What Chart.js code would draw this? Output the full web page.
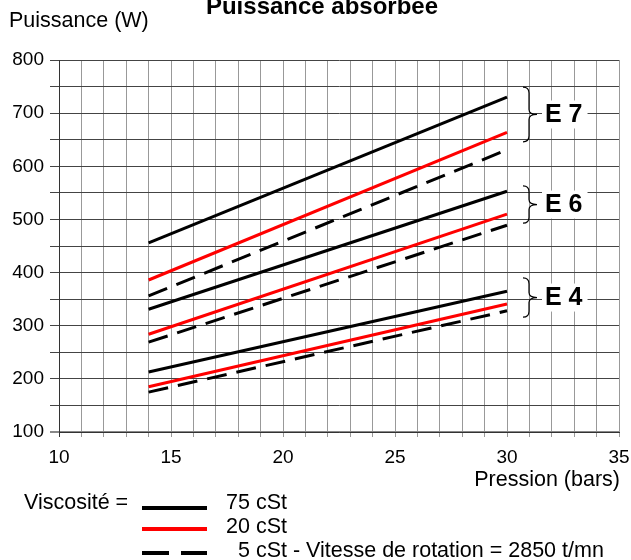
<!DOCTYPE html>
<html>
<head>
<meta charset="utf-8">
<script src="https://cdn.jsdelivr.net/npm/chart.js@4.4.0/dist/chart.umd.min.js"></script>
<style>
  html, body { margin: 0; padding: 0; background: #fff; }
  #wrap { width: 631px; height: 560px; position: relative; }
</style>
</head>
<body>
<div id="wrap"><canvas id="powerChart" width="631" height="560"></canvas></div>
<script>
// pressure range of every curve (bars)
const pressures = [14, 30];

// power (W) at 14 and 30 bars, per pump and viscosity
const e7_75 = [456, 730];
const e7_20 = [386, 664];
const e7_5 = [356, 631];
const e6_75 = [331, 553];
const e6_20 = [284, 510];
const e6_5 = [269, 489];
const e4_75 = [213, 365];
const e4_20 = [185, 341];
const e4_5 = [175, 328];

// brace ranges (W) and labels on the right
const groupLabels = ['E 7', 'E 6', 'E 4'];
const groupRanges = [[749, 646], [563, 493], [390, 316]];

const legendLabels = ['75 cSt', '20 cSt', '  5 cSt - Vitesse de rotation = 2850 t/mn'];

const FONT = '"Liberation Sans", Arial, sans-serif';

const toPts = vals => pressures.map((p, i) => ({ x: p, y: vals[i] }));

const styleFor = kind => {
  if (kind === 75) return { borderColor: '#000', borderDash: [] };
  if (kind === 20) return { borderColor: '#ff0000', borderDash: [] };
  return { borderColor: '#000', borderDash: [20, 10] };
};

const series = [
  [e7_75, 75], [e7_20, 20], [e7_5, 5],
  [e6_75, 75], [e6_20, 20], [e6_5, 5],
  [e4_75, 75], [e4_20, 20], [e4_5, 5]
];

const datasets = series.map(([vals, kind]) => ({
  data: toPts(vals),
  borderWidth: 3,
  pointRadius: 0,
  fill: false,
  tension: 0,
  ...styleFor(kind)
}));

// draws title, axis captions, braces and legend
const decorations = {
  id: 'decorations',
  afterDraw(chart) {
    const ctx = chart.ctx;
    const ys = chart.scales.y;
    ctx.save();
    ctx.fillStyle = '#000';
    ctx.textBaseline = 'middle';

    ctx.font = 'bold 24px ' + FONT;
    ctx.textAlign = 'center';
    ctx.fillText('Puissance absorbée', 322, 7);

    ctx.font = '21.5px ' + FONT;
    ctx.textAlign = 'left';
    ctx.fillText('Puissance (W)', 9, 21);

    ctx.textAlign = 'right';
    ctx.fillText('Pression (bars)', 620, 480);

    // braces
    groupRanges.forEach((r, i) => {
      const yTop = ys.getPixelForValue(r[0]);
      const yBot = ys.getPixelForValue(r[1]);
      const yMid = (yTop + yBot) / 2;
      const x0 = 523, x1 = 529, x2 = 537;
      ctx.strokeStyle = '#000';
      ctx.lineWidth = 1.2;
      ctx.beginPath();
      ctx.moveTo(x0, yTop);
      ctx.quadraticCurveTo(x1, yTop, x1, yTop + 6);
      ctx.lineTo(x1, yMid - 5);
      ctx.quadraticCurveTo(x1, yMid, x2, yMid);
      ctx.quadraticCurveTo(x1, yMid, x1, yMid + 5);
      ctx.lineTo(x1, yBot - 6);
      ctx.quadraticCurveTo(x1, yBot, x0, yBot);
      ctx.stroke();

      const label = groupLabels[i];
      ctx.font = 'bold 25px ' + FONT;
      ctx.textAlign = 'left';
      const tw = ctx.measureText(label).width;
      ctx.fillStyle = '#fff';
      ctx.fillRect(542, yMid - 14, tw + 8, 28);
      ctx.fillStyle = '#000';
      ctx.fillText(label, 545, yMid + 1);
    });

    // legend
    ctx.font = '21.5px ' + FONT;
    ctx.textAlign = 'left';
    ctx.fillText('Viscosité =', 24, 503);
    const rows = [75, 20, 5];
    const lineY = [508, 529, 553];
    const textY = [503, 527, 551];
    rows.forEach((kind, i) => {
      const st = styleFor(kind);
      ctx.strokeStyle = st.borderColor;
      ctx.setLineDash(st.borderDash.length ? [27, 12] : []);
      ctx.lineWidth = 4;
      ctx.beginPath();
      ctx.moveTo(142, lineY[i]);
      ctx.lineTo(207, lineY[i]);
      ctx.stroke();
      ctx.setLineDash([]);
      ctx.fillStyle = '#000';
      ctx.fillText(legendLabels[i], 226, textY[i]);
    });
    ctx.restore();
  }
};

new Chart(document.getElementById('powerChart'), {
  type: 'line',
  data: { datasets },
  options: {
    responsive: false,
    animation: false,
    layout: { padding: { left: 0, right: 0, top: 60, bottom: 88 } },
    plugins: { legend: { display: false }, title: { display: false }, tooltip: { enabled: false } },
    scales: {
      x: {
        type: 'linear',
        min: 10,
        max: 35,
        afterFit: s => { s.height = 40; s.paddingRight = 12; s.paddingLeft = 0; },
        ticks: {
          stepSize: 1,
          autoSkip: false,
          maxRotation: 0,
          padding: 9,
          color: '#000',
          font: { family: FONT, size: 19 },
          callback: v => (v % 5 === 0 ? v : '')
        },
        grid: {
          color: c => (c.tick && c.tick.value === 10 ? '#333' : '#999'),
          lineWidth: 1,
          tickLength: 5,
          drawTicks: true
        },
        border: { color: '#333', width: 1 }
      },
      y: {
        min: 100,
        max: 800,
        afterFit: s => { s.width = 59; },
        ticks: {
          stepSize: 50,
          autoSkip: false,
          padding: 6,
          color: '#000',
          font: { family: FONT, size: 19 },
          callback: v => (v % 100 === 0 ? v : '')
        },
        grid: {
          color: c => (c.tick && c.tick.value === 100 ? '#888' : '#444'),
          lineWidth: c => (c.tick && c.tick.value === 100 ? 2 : 1),
          tickLength: 9
        },
        border: { color: '#333', width: 1 }
      }
    }
  },
  plugins: [decorations]
});
</script>
</body>
</html>
